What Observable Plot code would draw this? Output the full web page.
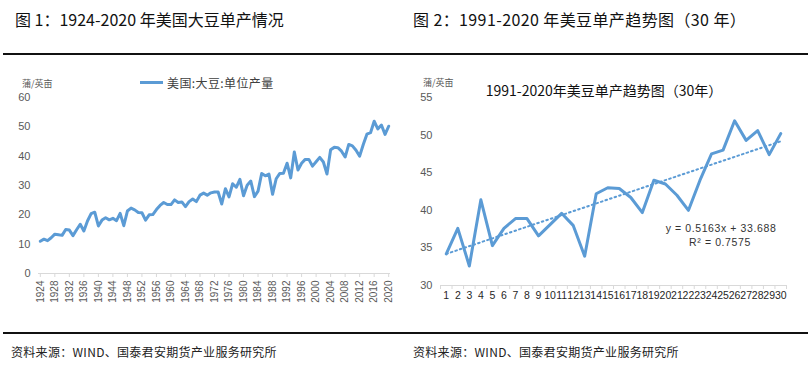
<!DOCTYPE html>
<html>
<head>
<meta charset="utf-8">
<script src="https://cdn.jsdelivr.net/npm/d3@7"></script>
<script src="https://cdn.jsdelivr.net/npm/@observablehq/plot@0.6"></script>
<style>
  html, body { margin: 0; padding: 0; background: #fff; }
  body { width: 811px; height: 373px; position: relative; overflow: hidden; font-family: "Noto Sans CJK SC", "Noto Sans", sans-serif; }
  .abs { position: absolute; white-space: nowrap; line-height: 1; transform: translateY(-50%); }
  .title { font-size: 16px; color: #111; }
  .unit { font-size: 9px; color: #595959; }
  .foot { font-size: 12px; color: #222; letter-spacing: 0.3px; }
  .rule { position: absolute; height: 2px; background: #111; }
  .plot { position: absolute; }
</style>
</head>
<body>
<script>
// ---------- data ----------
const panelTitles = ["图 1：1924-2020 年美国大豆单产情况", "图 2：1991-2020 年美豆单产趋势图（30 年）"];
const sourceNote = "资料来源：WIND、国泰君安期货产业服务研究所";
const unitLabel = "蒲/英亩";
const legendLabel = "美国:大豆:单位产量";
const rightChartTitle = "1991-2020年美豆单产趋势图（30年）";
const equationLines = ["y = 0.5163x + 33.688", "R² = 0.7575"];

const firstYear = 1924;
// US soybean yield, bushels/acre, 1924-1990
const yieldsTo1990 = [
  11.0, 11.7, 11.2, 12.2, 13.4, 13.2,
  13.0, 15.0, 14.8, 12.9, 14.9, 16.8, 14.5, 17.9, 20.4, 20.9,
  16.2, 18.2, 19.0, 18.3, 18.8, 18.0, 20.5, 16.3, 21.3, 22.3,
  21.7, 20.8, 20.7, 18.2, 20.0, 20.1, 21.8, 23.2, 24.2, 23.5,
  23.5, 25.1, 24.2, 24.4, 22.8, 24.5, 25.4, 24.5, 26.7, 27.4,
  26.7, 27.5, 27.8, 27.8, 23.7, 28.9, 26.1, 30.6, 29.4, 32.1,
  26.5, 30.1, 31.5, 26.2, 28.1, 34.1, 33.3, 33.9, 27.0, 32.3,
  34.1
];
// 1991-2020 (30 years)
const yields1991to2020 = [
  34.2, 37.6, 32.6, 41.4, 35.3, 37.6, 38.9, 38.9, 36.6, 38.1,
  39.6, 38.0, 33.9, 42.2, 43.0, 42.9, 41.7, 39.7, 44.0, 43.5,
  42.0, 40.0, 44.0, 47.5, 48.0, 51.9, 49.3, 50.6, 47.4, 50.2
];
const leftYTicks = [0, 10, 20, 30, 40, 50, 60];
const leftXTicks = [1924,1928,1932,1936,1940,1944,1948,1952,1956,1960,1964,1968,1972,1976,1980,1984,1988,1992,1996,2000,2004,2008,2012,2016,2020];
const rightYTicks = [30, 35, 40, 45, 50, 55];
const rightXTicks = [1,2,3,4,5,6,7,8,9,10,11,12,13,14,15,16,17,18,19,20,21,22,23,24,25,26,27,28,29,30];

// ---------- tables ----------
const allYields = yieldsTo1990.concat(yields1991to2020);
const leftData = allYields.map((v, i) => ({year: firstYear + i, value: v}));
const rightData = yields1991to2020.map((v, i) => ({n: rightXTicks[i], value: v}));

const blue = "#5b9bd5";
const body = document.body;
function addText(cls, text, left, top, extra) {
  const d = document.createElement("div");
  d.className = "abs " + cls;
  d.textContent = text;
  d.style.left = left + "px";
  d.style.top = top + "px";
  if (extra) Object.assign(d.style, extra);
  body.appendChild(d);
  return d;
}

// header / footer
addText("title", panelTitles[0], 15, 19);
addText("title", panelTitles[1], 413, 19, {letterSpacing: "0.4px"});
const r1 = document.createElement("div"); r1.className = "rule";
Object.assign(r1.style, {left: "3px", width: "805px", top: "53px"}); body.appendChild(r1);
const r2 = document.createElement("div"); r2.className = "rule";
Object.assign(r2.style, {left: "3px", width: "805px", top: "332px"}); body.appendChild(r2);
addText("foot", sourceNote, 11, 352);
addText("foot", sourceNote, 413, 352);

const plotStyle = {fontFamily: "'Liberation Sans', Arial, sans-serif", fontSize: "11px", color: "#595959", background: "transparent", overflow: "visible"};

// ---------- left chart ----------
const left = Plot.plot({
  width: 400, height: 250,
  marginTop: 37, marginBottom: 37, marginLeft: 38, marginRight: 10,
  style: plotStyle,
  x: {domain: [1923.5, 2020.5]},
  y: {domain: [0, 60]},
  marks: [
    Plot.ruleY([0], {stroke: "#d9d9d9"}),
    Plot.axisY({ticks: leftYTicks, tickSize: 0, tickPadding: 8, fontSize: 11, label: null}),
    Plot.axisX({ticks: leftXTicks, tickSize: 4, stroke: "#d9d9d9", fill: "#595959", tickRotate: -90, tickPadding: 3, fontSize: 10, tickFormat: d => String(d), label: null}),
    Plot.lineY(leftData, {x: "year", y: "value", stroke: blue, strokeWidth: 3, strokeLinejoin: "round", strokeLinecap: "round"})
  ]
});
left.classList.add("plot");
Object.assign(left.style, {left: "0px", top: "60px"});
body.appendChild(left);

addText("unit", unitLabel, 22, 83);
const leg = document.createElement("div");
Object.assign(leg.style, {position: "absolute", left: "140px", top: "81px", width: "23px", height: "3px", background: blue});
body.appendChild(leg);
addText("", legendLabel, 167, 83, {fontSize: "12px", color: "#404040", letterSpacing: "0.4px"});

// ---------- right chart ----------
const boundaries = rightXTicks.map(d => d - 0.5).concat([rightXTicks[rightXTicks.length - 1] + 0.5]);
const right = Plot.plot({
  width: 411, height: 250,
  marginTop: 37, marginBottom: 25, marginLeft: 40, marginRight: 25,
  style: plotStyle,
  x: {domain: [0.5, 30.5]},
  y: {domain: [30, 55]},
  marks: [
    Plot.ruleY([30], {stroke: "#d9d9d9"}),
    Plot.axisX({ticks: boundaries, tickSize: 4, stroke: "#d9d9d9", tickFormat: () => "", label: null}),
    Plot.axisX({ticks: rightXTicks, tickSize: 0, tickPadding: 6, fontSize: 10.5, fill: "#262626", label: null}),
    Plot.axisY({ticks: rightYTicks, tickSize: 0, tickPadding: 8, fontSize: 11, label: null}),
    Plot.lineY(rightData, {x: "n", y: "value", stroke: blue, strokeWidth: 3, strokeLinejoin: "round"}),
    Plot.linearRegressionY(rightData, {x: "n", y: "value", ci: 0, stroke: blue, strokeWidth: 2, strokeDasharray: "1.6,3.2", strokeLinecap: "round"})
  ]
});
right.classList.add("plot");
Object.assign(right.style, {left: "400px", top: "60px"});
body.appendChild(right);

addText("unit", unitLabel, 423, 82);
addText("", rightChartTitle, 604, 90, {fontSize: "14px", color: "#111", transform: "translate(-50%,-50%)"});
addText("", equationLines[0], 721, 228, {fontSize: "10.5px", color: "#333", letterSpacing: "0.6px", fontFamily: "'Liberation Sans', Arial, sans-serif", transform: "translate(-50%,-50%)"});
addText("", equationLines[1], 720, 242, {fontSize: "10.5px", color: "#333", letterSpacing: "0.6px", fontFamily: "'Liberation Sans', Arial, sans-serif", transform: "translate(-50%,-50%)"});
</script>
</body>
</html>
